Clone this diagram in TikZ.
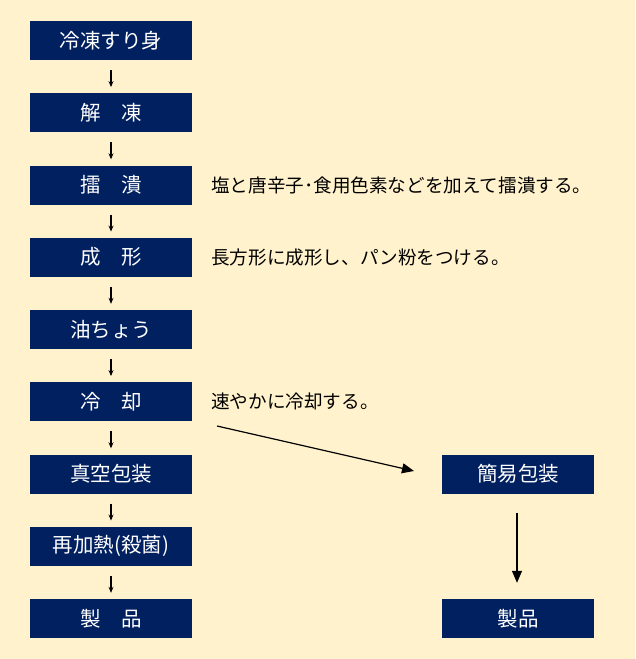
\documentclass[tikz,border=0pt]{standalone}
\usepackage{fontspec}
\newfontfamily\jp{Noto Sans CJK JP}
\usetikzlibrary{arrows.meta}
\definecolor{cream}{HTML}{FFF2CC}
\definecolor{navy}{HTML}{002060}
\begin{document}
\begin{tikzpicture}[x=1pt,y=-1pt,
  stepbox/.style={fill=navy,text=white,minimum width=162pt,minimum height=39pt,inner sep=0pt,font=\jp\fontsize{20.5}{20.5}\selectfont},
  note/.style={anchor=west,inner sep=0pt,font=\jp\fontsize{18.6}{19}\selectfont,text=black},
  smallarr/.style={-{Stealth[length=6pt,width=5pt]},line width=1.4pt,shorten <=10pt,shorten >=6pt},
  bigarr/.style={-{Triangle[length=12pt,width=10pt]},line width=1.2pt}]
\fill[cream] (0,0) rectangle (635,659);
\useasboundingbox (0,0) rectangle (635,659);
\node[stepbox] (s1) at (111,40.5) {冷凍すり身};
\node[stepbox] (s2) at (111,112.75) {解　凍};
\node[stepbox] (s3) at (111,185) {擂　潰};
\node[stepbox] (s4) at (111,257.25) {成　形};
\node[stepbox] (s5) at (111,329.5) {油ちょう};
\node[stepbox] (s6) at (111,401.75) {冷　却};
\node[stepbox] (s7) at (111,474) {真空包装};
\node[stepbox] (s8) at (111,546.25) {再加熱(殺菌)};
\node[stepbox] (s9) at (111,618.5) {製　品};
\node[stepbox,minimum width=152pt] (r1) at (518,474) {簡易包装};
\node[stepbox,minimum width=152pt] (r2) at (518,618.5) {製品};
\foreach \a/\b in {s1/s2,s2/s3,s3/s4,s4/s5,s5/s6,s6/s7,s7/s8,s8/s9}
  \draw[smallarr] (\a.south) -- (\b.north);
\node[note] (n3) at (211,185) {塩と唐辛子･食用色素などを加えて擂潰する。};
\node[note] (n4) at (211,257.25) {長方形に成形し、パン粉をつける。};
\node[note] (n6) at (211,401.75) {速やかに冷却する。};
\coordinate (d1) at (217,426);
\coordinate (d2) at (414,471);
\draw[bigarr] (d1) -- (d2);
\draw[bigarr,shorten <=19pt,shorten >=16pt] ([xshift=-1pt]r1.south) -- ([xshift=-1pt]r2.north);
\end{tikzpicture}
\end{document}
